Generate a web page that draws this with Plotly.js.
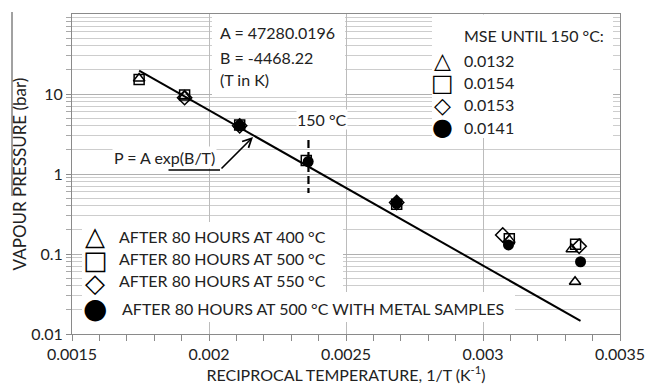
<!DOCTYPE html>
<html>
<head>
<meta charset="utf-8">
<script src="https://cdn.plot.ly/plotly-3.0.1.min.js"></script>
<style>html,body{margin:0;padding:0;background:#fff;}#chart{width:647px;height:386px;}</style>
</head>
<body>
<div id="chart"></div>
<script>
// ---- data ----
const seriesNames = ['AFTER 80 HOURS AT 400 °C', 'AFTER 80 HOURS AT 500 °C', 'AFTER 80 HOURS AT 550 °C', 'AFTER 80 HOURS AT 500 °C WITH METAL SAMPLES'];
const mseValues = ['0.0132', '0.0154', '0.0153', '0.0141'];

const tri400X = [0.001745, 0.001911, 0.002112, 0.002685, 0.003096, 0.003324, 0.003336];
const tri400Y = [15.6, 9.4, 4.1, 0.45, 0.15, 0.115, 0.045];

const sq500X = [0.001745, 0.001911, 0.002112, 0.002355, 0.002685, 0.003096, 0.003338];
const sq500Y = [15.2, 9.7, 4.1, 1.48, 0.42, 0.155, 0.132];

const dia550X = [0.001911, 0.002112, 0.002685, 0.003072, 0.003351];
const dia550Y = [9.0, 4.0, 0.44, 0.173, 0.125];

const metalX = [0.002112, 0.002362, 0.002685, 0.003093, 0.003356];
const metalY = [4.0, 1.43, 0.43, 0.13, 0.08];

const fitX = [0.001745, 0.003356];
const fitY = [19.6, 0.0146];

const cutX = [0.002363, 0.002363];
const cutY = [2.66, 0.58];

const xTickLabels = ['0.0015', '0.002', '0.0025', '0.003', '0.0035'];
const yTickLabels = ['0.01', '0.1', '1', '10'];

const fitText = ['A = 47280.0196', 'B = -4468.22', '(T in K)'];
const mseTitle = 'MSE UNTIL 150 °C:';
const cutLabel = '150 °C';
const eqLabel = 'P = A exp(B/T)';
const symbolsText = ['\u25B3', '\u25A1', '\u25C7', '\u25CF'];

// minor (2..9 per decade) log tick positions for the y axis grid
const yMinorVals = [];
yTickLabels.map(Number).forEach(d => { for (let k = 2; k <= 9; k++) yMinorVals.push(k * d); });

// ---- styling ----
const FONT = 'Lato, "Open Sans", sans-serif';
const TXT = '#222222';
const markerLine = {color: '#000000', width: 1.5};

const traces = [
  {x: fitX, y: fitY, mode: 'lines', line: {color: '#000000', width: 2}, showlegend: false, hoverinfo: 'skip'},
  {x: cutX, y: cutY, mode: 'lines', line: {color: '#000000', width: 2.2, dash: '8px,4px'}, showlegend: false, hoverinfo: 'skip'},
  {x: tri400X, y: tri400Y, name: seriesNames[0], mode: 'markers', marker: {symbol: 'triangle-up-open', size: 10, color: '#000', line: markerLine}},
  {x: sq500X, y: sq500Y, name: seriesNames[1], mode: 'markers', marker: {symbol: 'square-open', size: 10, color: '#000', line: markerLine}},
  {x: dia550X, y: dia550Y, name: seriesNames[2], mode: 'markers', marker: {symbol: 'diamond-open', size: 11, color: '#000', line: markerLine}},
  {x: metalX, y: metalY, name: seriesNames[3], mode: 'markers', marker: {symbol: 'circle', size: 11, color: '#000'}}
];

const L = 72, R = 27, T = 14, B = 52, W = 647, H = 386;
const pw = W - L - R, ph = H - T - B;
const px = v => (v - L) / pw;        // pixel -> paper x
const py = v => (H - B - v) / ph;    // pixel -> paper y

const annotations = [];
function addText(text, x, y, opts) {
  annotations.push(Object.assign({
    text: text, xref: 'paper', yref: 'paper', x: px(x), y: py(y),
    xanchor: 'left', yanchor: 'middle', showarrow: false,
    font: {family: FONT, size: 16, color: TXT}
  }, opts || {}));
}
// fit parameter box
[33, 57, 79].forEach((yy, i) => addText(fitText[i], 218, yy));
// 150 C label
addText(cutLabel, 322, 119, {xanchor: 'center', bgcolor: '#ffffff', borderpad: 0});
// equation label
addText(eqLabel, 164, 157, {xanchor: 'center', bgcolor: '#ffffff', borderpad: 1});
// MSE box
addText(mseTitle, 462, 35);
const mseY = [60, 82, 104, 127];
const mseSymY = [60, 83, 105, 127];
const symSizes = [22, 24, 22, 24];
mseValues.forEach((v, i) => {
  addText(v, 462, mseY[i]);
  addText(symbolsText[i], 442, mseSymY[i], {xanchor: 'center', font: {family: 'DejaVu Sans', size: symSizes[i], color: '#000'}});
});
// legend box
const legTextY = [236.5, 258.5, 280.5, 308];
const legTextX = [117, 117, 117, 120];
const legSymY = [236, 260, 283, 308];
const legSymSizes = [26, 26, 26, 28];
seriesNames.forEach((n, i) => {
  addText(n, legTextX[i], legTextY[i]);
  addText(symbolsText[i], 95, legSymY[i], {xanchor: 'center', font: {family: 'DejaVu Sans', size: legSymSizes[i], color: '#000'}});
});
// arrow pointing at the fitted curve
annotations.push({text: '', xref: 'paper', yref: 'paper', x: px(220), y: py(170), ax: -53, ay: 0,
  showarrow: true, arrowhead: 0, arrowwidth: 1.6, arrowcolor: '#000'});
annotations.push({text: '', xref: 'paper', yref: 'paper', x: px(253), y: py(137), ax: -33, ay: 33,
  showarrow: true, arrowhead: 5, arrowsize: 1.1, arrowwidth: 1.6, arrowcolor: '#000'});

const white = (x0, x1, y0, y1) => ({type: 'rect', xref: 'paper', yref: 'paper',
  x0: px(x0), x1: px(x1), y0: py(y0), y1: py(y1), fillcolor: '#ffffff', line: {width: 0}, layer: 'above'});

const shapes = [
  white(212, 345, 14.5, 97),
  white(432, 613, 14.5, 138),
  white(82, 343, 222, 292),
  white(82, 515, 292, 322),
  {type: 'line', xref: 'paper', yref: 'paper', x0: px(12), x1: px(12), y0: py(12), y1: py(196), line: {color: '#444', width: 1}}
];

const layout = {
  width: W, height: H,
  margin: {l: L, r: R, t: T, b: B},
  paper_bgcolor: '#ffffff', plot_bgcolor: '#ffffff',
  showlegend: false,
  font: {family: FONT, size: 16, color: TXT},
  xaxis: {
    range: [0.0015, 0.0035], tickmode: 'array',
    tickvals: xTickLabels.map(Number), ticktext: xTickLabels,
    showgrid: true, gridcolor: '#bcbcbc', gridwidth: 1,
    showline: true, linecolor: '#8a8a8a', linewidth: 1, mirror: true,
    ticks: 'outside', ticklen: 6, tickcolor: '#8a8a8a',
    minor: {dtick: 0.0001, ticks: 'outside', ticklen: 6, tickcolor: '#8a8a8a', showgrid: false},
    zeroline: false,
    tickfont: {family: FONT, size: 16, color: TXT},
    title: {text: 'RECIPROCAL TEMPERATURE, 1/T (K<sup>-1</sup>)', font: {family: FONT, size: 16, color: TXT}, standoff: 2}
  },
  yaxis: {
    type: 'log', range: [-2, 2], tickmode: 'array',
    tickvals: yTickLabels.map(Number), ticktext: yTickLabels,
    showgrid: true, gridcolor: '#b0b0b0', gridwidth: 1,
    showline: true, linecolor: '#8a8a8a', linewidth: 1, mirror: true,
    ticks: 'outside', ticklen: 5, tickcolor: '#8a8a8a',
    minor: {tickmode: 'array', tickvals: yMinorVals, ticks: 'outside', ticklen: 5, tickcolor: '#a8a8a8', showgrid: true, gridcolor: '#cdcdcd', gridwidth: 1},
    zeroline: false,
    tickfont: {family: FONT, size: 16, color: TXT},
    title: {text: 'VAPOUR PRESSURE (bar)', font: {family: FONT, size: 17, color: TXT}, standoff: 0}
  },
  annotations: annotations,
  shapes: shapes
};

Plotly.newPlot('chart', traces, layout, {displayModeBar: false, staticPlot: true});
</script>
</body>
</html>
